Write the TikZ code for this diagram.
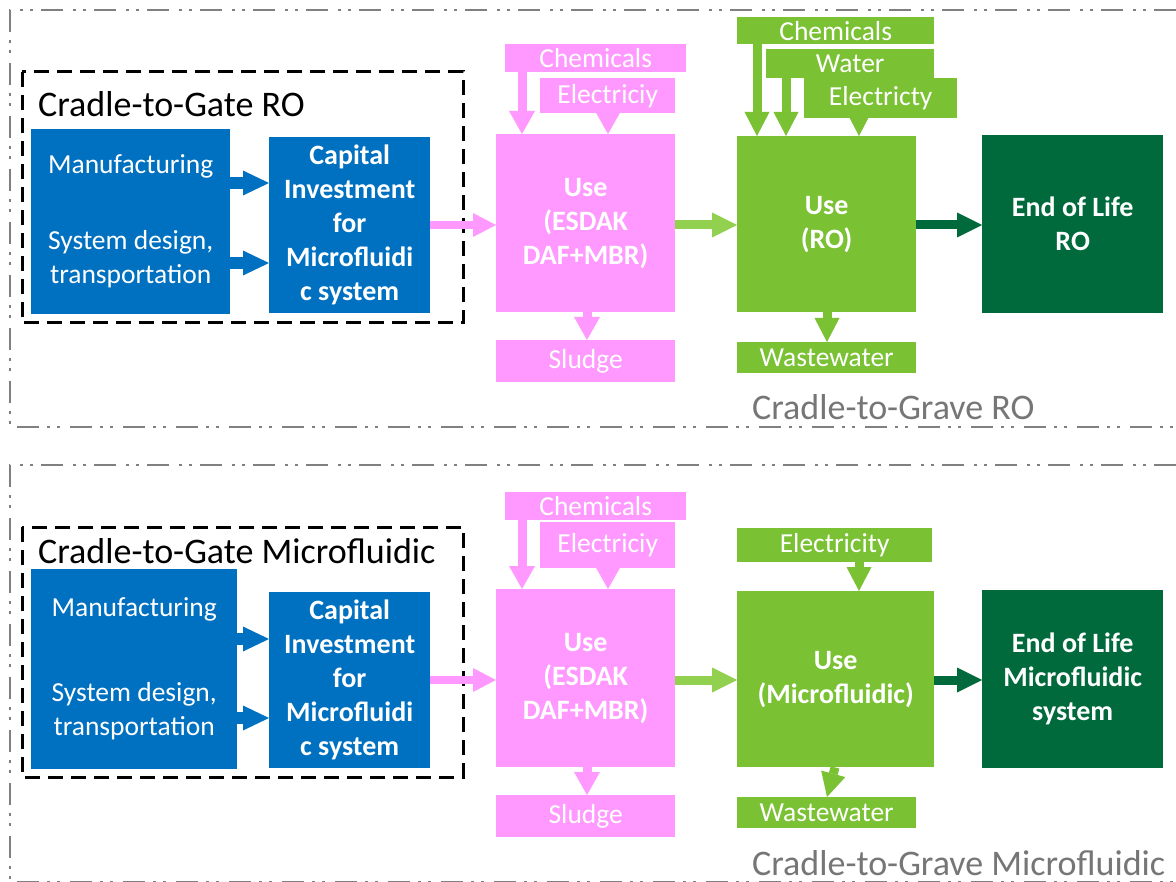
\documentclass[tikz,border=0pt]{standalone}
\usepackage{fontspec}
\setmainfont{Carlito}
\usetikzlibrary{arrows.meta}
\definecolor{capblue}{RGB}{0,112,192}
\definecolor{usepink}{RGB}{255,153,255}
\definecolor{usegreen}{RGB}{122,193,52}
\definecolor{flowgreen}{RGB}{146,208,80}
\definecolor{eolgreen}{RGB}{0,106,60}
\definecolor{framegray}{RGB}{128,128,128}
\definecolor{titlegray}{RGB}{118,118,118}

\begin{document}
\begin{tikzpicture}[x=1pt, y=-1pt,
  box/.style={anchor=north west, inner sep=0pt, align=center, text=white, font=\fontsize{27.5}{34}\selectfont},
  bold/.style={font=\fontsize{28}{34}\selectfont\bfseries},
  bluebox/.style={box, fill=capblue},
  pinkbox/.style={box, fill=usepink},
  greenbox/.style={box, fill=usegreen},
  eolbox/.style={box, fill=eolgreen},
  gatebox/.style={draw=black, line width=3pt, dash pattern=on 15pt off 8pt},
  graveline/.style={draw=framegray, line width=2.5pt, dash pattern=on 22pt off 8pt on 3pt off 7pt on 3pt off 10pt},
  phase/.style={anchor=base west, inner sep=0pt, font=\fontsize{36}{40}\selectfont},
  bluearr/.style={capblue, line width=12pt, -{Triangle[length=26pt, width=25pt, line width=0pt]}},
  pinkarr/.style={usepink, line width=8pt, -{Triangle[length=23pt, width=24pt, line width=0pt]}},
  flowarr/.style={flowgreen, line width=9pt, -{Triangle[length=25pt, width=25pt, line width=0pt]}},
  eolarr/.style={eolgreen, line width=9pt, -{Triangle[length=25pt, width=25pt, line width=0pt]}},
  inpink/.style={usepink, line width=9pt, -{Triangle[length=23pt, width=26pt, line width=0pt]}},
  ingreen/.style={usegreen, line width=9pt, -{Triangle[length=24pt, width=25pt, line width=0pt]}},
]
\useasboundingbox (0,0) rectangle (1176,882);

% outer frames
\draw[graveline] (1176,10) -- (10,10) -- (10,427) -- (1176,427);
\draw[graveline] (1176,465) -- (10,465) -- (10,882) -- (1176,882);
\draw[gatebox] (22,72) rectangle (463,323);
\draw[gatebox] (22,527) rectangle (463,777);

% levels of the arrows
\coordinate (yb1) at (0,183);
\coordinate (yb2) at (0,263);
\coordinate (yb3) at (0,639);
\coordinate (yb4) at (0,718);
\coordinate (mid1) at (0,225);
\coordinate (mid2) at (0,680);
\coordinate (xpc) at (522,0);
\coordinate (xpe) at (608,0);
\coordinate (xsl) at (587,0);
\coordinate (xgc) at (757,0);
\coordinate (xgw) at (786,0);
\coordinate (xge) at (859,0);
\coordinate (xww) at (827,0);
\coordinate (xwa) at (835,0);

%% RO
\node[phase] (gate1) at (38,117) {Cradle-to-Gate RO};
\node[phase, text=titlegray] (grave1) at (752,420) {Cradle-to-Grave RO};
\node[bluebox, minimum width=199pt, minimum height=185pt] (mfg1) at (31,129) {Manufacturing\\[42pt]System design,\\transportation};
\node[bluebox, bold, minimum width=161pt, minimum height=176pt] (cap1) at (269,137) {Capital\\Investment\\for\\Microfluidi\\c system};
\node[pinkbox, minimum width=181pt, minimum height=28pt] (chem1) at (505,44) {Chemicals};
\node[pinkbox, minimum width=135pt, minimum height=35pt] (elec1) at (540,78) {Electriciy};
\node[pinkbox, bold, minimum width=179pt, minimum height=178pt] (use1) at (496,134) {Use\\(ESDAK\\DAF+MBR)};
\node[pinkbox, minimum width=179pt, minimum height=42pt] (sludge1) at (496,340) {Sludge};
\node[greenbox, minimum width=197pt, minimum height=27pt] (chem2) at (737,17) {Chemicals};
\node[greenbox, minimum width=168pt, minimum height=29pt] (water) at (766,49) {Water};
\node[greenbox, minimum width=153pt, minimum height=40pt] (elec2) at (804,78) {Electricty};
\node[greenbox, bold, minimum width=179pt, minimum height=176pt] (ro) at (737,136) {Use\\(RO)};
\node[greenbox, minimum width=179pt, minimum height=31pt] (waste1) at (737,342) {Wastewater};
\node[eolbox, bold, minimum width=181pt, minimum height=178pt] (eol1) at (982,135) {End of Life\\RO};

\draw[bluearr] (mfg1.east |- yb1) -- (cap1.west |- yb1);
\draw[bluearr] (mfg1.east |- yb2) -- (cap1.west |- yb2);
\draw[pinkarr] (cap1.east |- mid1) -- (use1.west |- mid1);
\draw[flowarr] (use1.east |- mid1) -- (ro.west |- mid1);
\draw[eolarr] (ro.east |- mid1) -- (eol1.west |- mid1);
\draw[inpink] (chem1.south -| xpc) -- (use1.north -| xpc);
\draw[inpink] (elec1.south -| xpe) -- (use1.north -| xpe);
\draw[inpink] (use1.south -| xsl) -- (sludge1.north -| xsl);
\draw[ingreen] (chem2.south -| xgc) -- (ro.north -| xgc);
\draw[ingreen] (water.south -| xgw) -- (ro.north -| xgw);
\draw[ingreen] (elec2.south -| xge) -- (ro.north -| xge);
\draw[ingreen] (ro.south -| xww) -- (waste1.north -| xww);

%% Microfluidic
\node[phase] (gate2) at (38,563) {Cradle-to-Gate Microfluidic};
\node[phase, text=titlegray] (grave2) at (752,875) {Cradle-to-Grave Microfluidic};
\node[bluebox, minimum width=206pt, minimum height=200pt] (mfg2) at (31,569) {Manufacturing\\[51pt]System design,\\transportation};
\node[bluebox, bold, minimum width=161pt, minimum height=176pt] (cap2) at (269,592) {Capital\\Investment\\for\\Microfluidi\\c system};
\node[pinkbox, minimum width=181pt, minimum height=28pt] (chem3) at (505,492) {Chemicals};
\node[pinkbox, minimum width=135pt, minimum height=46pt] (elec3) at (540,522) {Electriciy};
\node[pinkbox, bold, minimum width=179pt, minimum height=178pt] (use2) at (496,589) {Use\\(ESDAK\\DAF+MBR)};
\node[pinkbox, minimum width=179pt, minimum height=42pt] (sludge2) at (496,795) {Sludge};
\node[greenbox, minimum width=195pt, minimum height=34pt] (elec4) at (737,528) {Electricity};
\node[greenbox, bold, minimum width=197pt, minimum height=176pt] (mf) at (737,591) {Use\\(Microfluidic)};
\node[greenbox, minimum width=179pt, minimum height=31pt] (waste2) at (737,797) {Wastewater};
\node[eolbox, bold, minimum width=181pt, minimum height=178pt] (eol2) at (982,590) {End of Life\\Microfluidic\\system};

\draw[bluearr] (mfg2.east |- yb3) -- (cap2.west |- yb3);
\draw[bluearr] (mfg2.east |- yb4) -- (cap2.west |- yb4);
\draw[pinkarr] (cap2.east |- mid2) -- (use2.west |- mid2);
\draw[flowarr] (use2.east |- mid2) -- (mf.west |- mid2);
\draw[eolarr] (mf.east |- mid2) -- (eol2.west |- mid2);
\draw[inpink] (chem3.south -| xpc) -- (use2.north -| xpc);
\draw[inpink] (elec3.south -| xpe) -- (use2.north -| xpe);
\draw[inpink] (use2.south -| xsl) -- (sludge2.north -| xsl);
\draw[ingreen] (elec4.south -| xge) -- (mf.north -| xge);
\draw[ingreen] (mf.south -| xwa) -- (waste2.north -| xww);
\end{tikzpicture}
\end{document}
